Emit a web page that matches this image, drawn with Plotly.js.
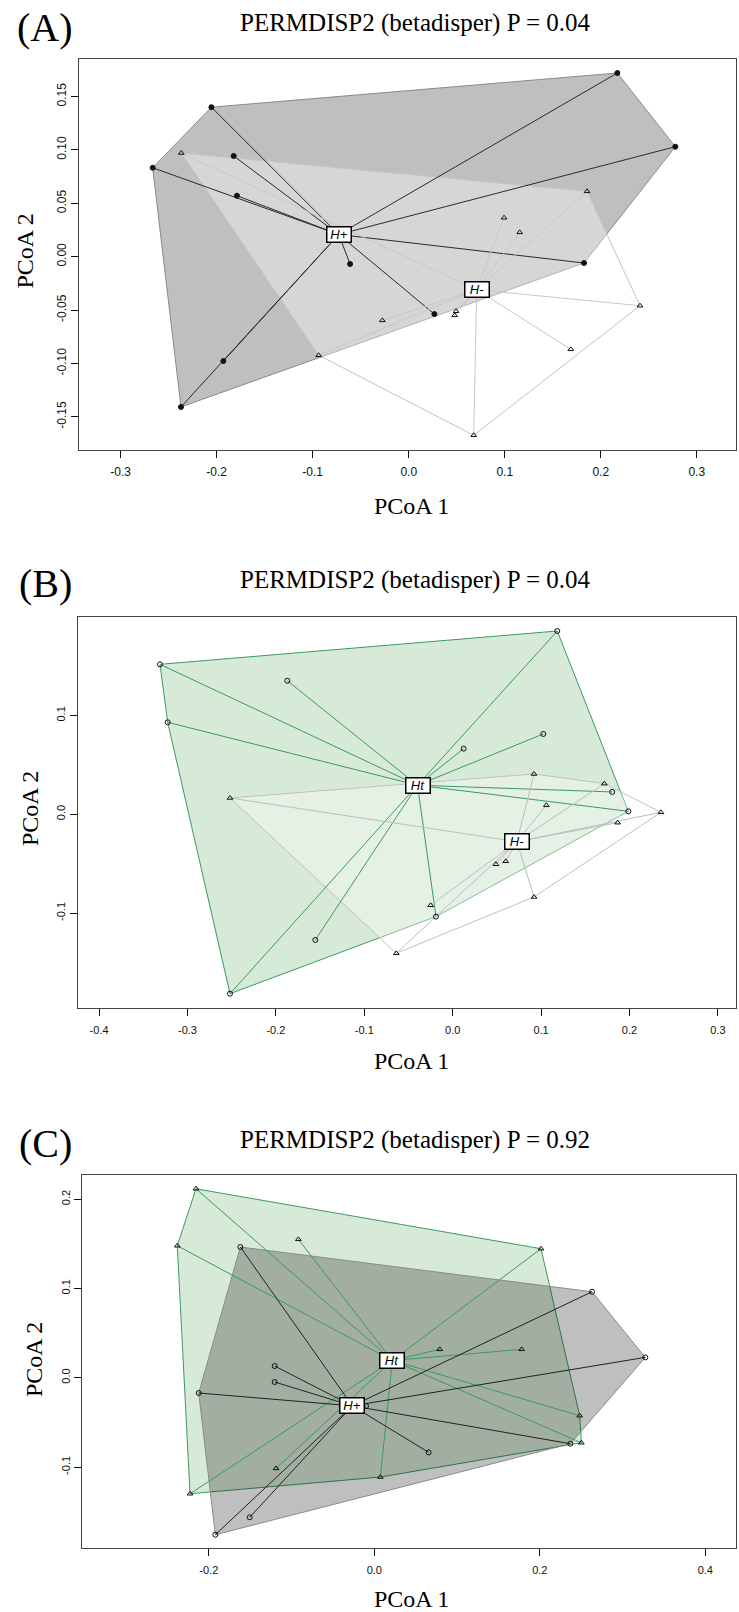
<!DOCTYPE html>
<html>
<head>
<meta charset="utf-8">
<script src="https://cdn.plot.ly/plotly-3.0.1.min.js"></script>
<style>html,body{margin:0;padding:0;background:#fff;}#chart{width:739px;height:1612px;}</style>
</head>
<body>
<div id="chart"></div>
<script>
// ---------- Panel A : H+ (filled dots) vs H- (triangles) ----------
const aHpX = [-0.2055, -0.2667, -0.1823, -0.1789, 0.2173, 0.2777, -0.0611, -0.1931, -0.2372, 0.1826, 0.0267];
const aHpY = [0.1400, 0.0833, 0.0943, 0.0571, 0.1720, 0.1030, -0.0068, -0.0977, -0.1407, -0.0059, -0.0537];
const aHmX = [-0.2369, 0.1857, 0.0993, 0.1156, -0.0938, -0.0275, 0.0493, 0.0479, 0.2409, 0.1688, 0.0677];
const aHmY = [0.0971, 0.0612, 0.0365, 0.0228, -0.0923, -0.0596, -0.0511, -0.0549, -0.0459, -0.0867, -0.1672];
const aCentLabels = ["H+", "H-"];
const aCentX = [-0.0729, 0.0708];
const aCentY = [0.0208, -0.0309];

// ---------- Panel B : Ht (circles) vs H- (triangles) ----------
const bHtX = [-0.3311, -0.1871, -0.3224, 0.1183, 0.1025, 0.0124, -0.1554, -0.2519, 0.1805, 0.1987, -0.0189];
const bHtY = [0.1518, 0.1352, 0.0931, 0.1855, 0.0813, 0.0664, -0.1272, -0.1816, 0.0226, 0.0030, -0.1036];
const bHmX = [-0.2519, 0.0920, 0.1715, 0.1059, 0.2356, 0.1866, 0.0600, 0.0490, 0.0920, -0.0249, -0.0638];
const bHmY = [0.0165, 0.0408, 0.0310, 0.0091, 0.0020, -0.0085, -0.0476, -0.0506, -0.0837, -0.0921, -0.1407];
const bCentLabels = ["Ht", "H-"];
const bCentX = [-0.0398, 0.0727];
const bCentY = [0.0294, -0.0277];

// ---------- Panel C : Ht (triangles) vs H+ (circles) ----------
const cHtX = [-0.2155, -0.2381, -0.0918, 0.2014, -0.1188, -0.2227, 0.0790, 0.1781, 0.2482, 0.2502, 0.0073];
const cHtY = [0.2116, 0.1478, 0.1550, 0.1445, -0.1015, -0.1299, 0.0318, 0.0318, -0.0425, -0.0728, -0.1112];
const cHpX = [-0.1619, 0.2631, -0.1204, -0.1204, -0.2122, -0.1506, -0.1921, 0.3275, 0.0657, 0.2369, -0.0100];
const cHpY = [0.1464, 0.0963, 0.0131, -0.0048, -0.0171, -0.1563, -0.1758, 0.0228, -0.0836, -0.0739, -0.0317];
const cCentLabels = ["Ht", "H+"];
const cCentX = [0.0218, -0.0266];
const cCentY = [0.0193, -0.0315];

// ---------- tick labels ----------
const aXTicks = [-0.3, -0.2, -0.1, 0.0, 0.1, 0.2, 0.3];
const aXText = ["-0.3", "-0.2", "-0.1", "0.0", "0.1", "0.2", "0.3"];
const aYTicks = [-0.15, -0.10, -0.05, 0.00, 0.05, 0.10, 0.15];
const aYText = ["-0.15", "-0.10", "-0.05", "0.00", "0.05", "0.10", "0.15"];
const bXTicks = [-0.4, -0.3, -0.2, -0.1, 0.0, 0.1, 0.2, 0.3];
const bXText = ["-0.4", "-0.3", "-0.2", "-0.1", "0.0", "0.1", "0.2", "0.3"];
const bYTicks = [-0.1, 0.0, 0.1];
const bYText = ["-0.1", "0.0", "0.1"];
const cXTicks = [-0.2, 0.0, 0.2, 0.4];
const cXText = ["-0.2", "0.0", "0.2", "0.4"];
const cYTicks = [-0.1, 0.0, 0.1, 0.2];
const cYText = ["-0.1", "0.0", "0.1", "0.2"];

const panelTitles = ["PERMDISP2 (betadisper) P = 0.04", "PERMDISP2 (betadisper) P = 0.04", "PERMDISP2 (betadisper) P = 0.92"];
const panelTags = ["(A)", "(B)", "(C)"];

// ---------- helpers ----------
const W = 739, H = 1612;
const px = p => p / W;
const py = p => 1 - p / H;

function convexHull(xs, ys) {
  const pts = xs.map((x, i) => [x, ys[i]]).sort((a, b) => a[0] - b[0] || a[1] - b[1]);
  const cross = (o, a, b) => (a[0] - o[0]) * (b[1] - o[1]) - (a[1] - o[1]) * (b[0] - o[0]);
  const lower = [], upper = [];
  for (const p of pts) { while (lower.length >= 2 && cross(lower[lower.length - 2], lower[lower.length - 1], p) <= 0) lower.pop(); lower.push(p); }
  for (let i = pts.length - 1; i >= 0; i--) { const p = pts[i]; while (upper.length >= 2 && cross(upper[upper.length - 2], upper[upper.length - 1], p) <= 0) upper.pop(); upper.push(p); }
  upper.pop(); lower.pop();
  const h = lower.concat(upper); h.push(h[0]);
  return { x: h.map(p => p[0]), y: h.map(p => p[1]) };
}
function hullTrace(xs, ys, ax, lineColor, fill) {
  const h = convexHull(xs, ys);
  return { type: 'scatter', mode: 'lines', x: h.x, y: h.y, xaxis: ax[0], yaxis: ax[1], fill: 'toself', fillcolor: fill,
           line: { color: lineColor, width: 1 }, hoverinfo: 'skip', showlegend: false };
}
function segTrace(xs, ys, cx, cy, ax, color) {
  const sx = [], sy = [];
  xs.forEach((x, i) => { sx.push(cx, x, null); sy.push(cy, ys[i], null); });
  return { type: 'scatter', mode: 'lines', x: sx, y: sy, xaxis: ax[0], yaxis: ax[1], line: { color: color, width: 1 }, hoverinfo: 'skip', showlegend: false };
}
function ptTrace(xs, ys, ax, symbol, size) {
  return { type: 'scatter', mode: 'markers', x: xs, y: ys, xaxis: ax[0], yaxis: ax[1], showlegend: false,
           marker: { symbol: symbol, size: size, color: '#111', line: { color: '#111', width: 1 } } };
}

const GREEN = '#3b9a62';
const GREENFILL = 'rgba(40,140,40,0.19)';
const DARKFILL = 'rgba(0,0,0,0.25)';
const WHITEFILL = 'rgba(255,255,255,0.36)';
const A = ['x', 'y'], B = ['x2', 'y2'], C = ['x3', 'y3'];

const data = [
  // Panel A
  hullTrace(aHpX, aHpY, A, '#8a8a8a', DARKFILL),
  hullTrace(aHmX, aHmY, A, '#c4c4c4', WHITEFILL),
  segTrace(aHpX, aHpY, aCentX[0], aCentY[0], A, '#2a2a2a'),
  segTrace(aHmX, aHmY, aCentX[1], aCentY[1], A, '#c8c8c8'),
  ptTrace(aHpX, aHpY, A, 'circle', 5),
  ptTrace(aHmX, aHmY, A, 'triangle-up-open', 5),
  // Panel B
  hullTrace(bHtX, bHtY, B, GREEN, GREENFILL),
  hullTrace(bHmX, bHmY, B, '#c0c0c0', WHITEFILL),
  segTrace(bHtX, bHtY, bCentX[0], bCentY[0], B, GREEN),
  segTrace(bHmX, bHmY, bCentX[1], bCentY[1], B, '#bdbdbd'),
  ptTrace(bHtX, bHtY, B, 'circle-open', 5),
  ptTrace(bHmX, bHmY, B, 'triangle-up-open', 5),
  // Panel C
  hullTrace(cHtX, cHtY, C, GREEN, GREENFILL),
  hullTrace(cHpX, cHpY, C, '#8a8a8a', DARKFILL),
  segTrace(cHtX, cHtY, cCentX[0], cCentY[0], C, GREEN),
  segTrace(cHpX, cHpY, cCentX[1], cCentY[1], C, '#222222'),
  ptTrace(cHtX, cHtY, C, 'triangle-up-open', 5),
  ptTrace(cHpX, cHpY, C, 'circle-open', 5)
];

function axisBase(tv, tt, fs) {
  return { tickvals: tv, ticktext: tt, showgrid: false, zeroline: false, showline: true, mirror: true,
           linecolor: '#444', linewidth: 1, ticks: 'outside', ticklen: 7, tickwidth: 1, tickcolor: '#111',
           tickfont: { family: 'Liberation Sans, Arial, sans-serif', size: fs, color: '#111' }, fixedrange: true };
}
const layout = {
  width: W, height: H, margin: { l: 0, r: 0, t: 0, b: 0 }, paper_bgcolor: '#fff', plot_bgcolor: '#fff', showlegend: false,
  xaxis: Object.assign(axisBase(aXTicks, aXText, 12), { domain: [px(78.7), px(736)], range: [-0.34375, 0.3409], anchor: 'y', ticklabelstandoff: 4 }),
  yaxis: Object.assign(axisBase(aYTicks, aYText, 12), { domain: [py(450), py(58.7)], range: [-0.18099, 0.1854], anchor: 'x', tickangle: -90 }),
  xaxis2: Object.assign(axisBase(bXTicks, bXText, 11), { domain: [px(77.7), px(736)], range: [-0.4242, 0.3205], anchor: 'y2', ticklabelstandoff: 4 }),
  yaxis2: Object.assign(axisBase(bYTicks, bYText, 11), { domain: [py(1008.3), py(616.7)], range: [-0.1964, 0.2000], anchor: 'x2', tickangle: -90 }),
  xaxis3: Object.assign(axisBase(cXTicks, cXText, 11), { domain: [px(82.3), px(736)], range: [-0.3529, 0.4371], anchor: 'y3', ticklabelstandoff: 4 }),
  yaxis3: Object.assign(axisBase(cYTicks, cYText, 11), { domain: [py(1548.3), py(1175.3)], range: [-0.1910, 0.2267], anchor: 'x3', tickangle: -90 }),
  annotations: []
};

const serif = 'Liberation Serif, Times New Roman, serif';
const tagY = [27, 583, 1143], titleY = [23.3, 580, 1140];
const yTitleX = [24, 30, 34], yTitleY = [251.5, 809, 1360];
const xTitleX = [411, 411, 411], xTitleY = [505.5, 1061, 1599];
for (let i = 0; i < 3; i++) {
  layout.annotations.push({ xref: 'paper', yref: 'paper', x: px(45), y: py(tagY[i]), text: panelTags[i], showarrow: false,
    xanchor: 'center', yanchor: 'middle', font: { family: serif, size: 40, color: '#000' } });
  layout.annotations.push({ xref: 'paper', yref: 'paper', x: px(415.5), y: py(titleY[i]), text: panelTitles[i], showarrow: false,
    xanchor: 'center', yanchor: 'middle', font: { family: serif, size: 25, color: '#000' } });
  layout.annotations.push({ xref: 'paper', yref: 'paper', x: px(yTitleX[i]), y: py(yTitleY[i]), text: 'PCoA 2', textangle: -90, showarrow: false,
    xanchor: 'center', yanchor: 'middle', font: { family: serif, size: 24, color: '#000' } });
  layout.annotations.push({ xref: 'paper', yref: 'paper', x: px(xTitleX[i]), y: py(xTitleY[i]), text: 'PCoA 1', showarrow: false,
    xanchor: 'center', yanchor: 'middle', font: { family: serif, size: 24, color: '#000' } });
}
function centLabels(labels, xs, ys, ax) {
  labels.forEach((t, i) => layout.annotations.push({ xref: ax[0], yref: ax[1], x: xs[i], y: ys[i], text: '<i>' + t + '</i>', showarrow: false,
    xanchor: 'center', yanchor: 'middle', bgcolor: '#fff', bordercolor: '#000', borderwidth: 1.5, borderpad: 1, width: 21, height: 12,
    font: { family: 'Liberation Sans, Arial, sans-serif', size: 13, color: '#000' } }));
}
centLabels(aCentLabels, aCentX, aCentY, A);
centLabels(bCentLabels, bCentX, bCentY, B);
centLabels(cCentLabels, cCentX, cCentY, C);

Plotly.newPlot('chart', data, layout, { staticPlot: true, displayModeBar: false });
</script>
</body>
</html>
